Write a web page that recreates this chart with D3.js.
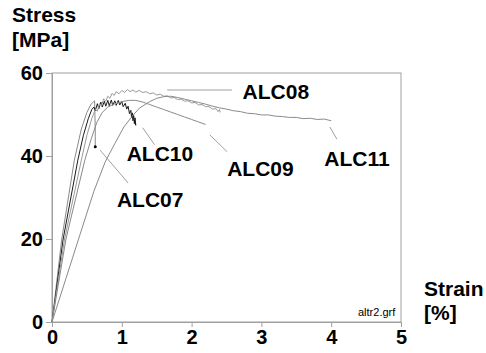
<!DOCTYPE html>
<html>
<head>
<meta charset="utf-8">
<script src="https://d3js.org/d3.v7.min.js"></script>
<style>
  body { margin: 0; background: #fff; }
  text { font-family: Arial, 'Liberation Sans', sans-serif; }
  .tick text { font-weight: bold; font-size: 20px; fill: #000; }
  .curve { fill: none; stroke-width: 1; }
  .label { font-weight: bold; font-size: 21px; fill: #000; }
</style>
</head>
<body>
<svg width="486" height="353"></svg>
<script>
  // strain [%], stress [MPa]
  const alc07 = [[0,0],[0.14,20],[0.32,39],[0.42,46.5],[0.5,50.5],[0.56,52.5],[0.61,53.3],[0.615,50],[0.62,46],[0.62,42.2]];

  const alc10 = [[0,0],[0.16,20],[0.37,39],[0.45,45],[0.52,49],[0.57,51.2],[0.6,51.8],[0.62,50.9],[0.65,52.6],[0.67,51.4],[0.7,53],[0.72,51.8],[0.75,53.2],[0.77,52],[0.8,53.4],[0.82,52.1],[0.85,53.5],[0.87,52.2],[0.9,53.3],[0.92,52.2],[0.95,53.4],[0.97,52.3],[1.0,53.1],[1.02,51.9],[1.05,52.7],[1.07,51.3],[1.09,52],[1.11,50.2],[1.13,51],[1.14,49.2],[1.15,50.4],[1.16,48.5],[1.17,49.8],[1.18,47.8],[1.19,49.2],[1.2,47.4],[1.18,48.6],[1.2,47.7]];

  const alc08 = [[0,0],[0.18,20],[0.42,39],[0.5,45],[0.57,49],[0.62,51.2],[0.65,50.8],[0.68,52.6],[0.71,52.2],[0.74,53.8],[0.77,53.2],[0.8,54.4],[0.83,53.9],[0.86,55.1],[0.89,54.6],[0.92,55.5],[0.96,55],[1.0,55.8],[1.04,55.3],[1.08,56],[1.12,55.5],[1.16,55.9],[1.2,55.4],[1.25,55.8],[1.3,55.3],[1.35,55.5],[1.4,55],[1.45,55.2],[1.5,54.7],[1.55,54.9],[1.6,54.4],[1.65,54.5],[1.7,54],[1.75,54.1],[1.8,53.6],[1.85,53.7],[1.9,53.2],[1.95,53.3],[2.0,52.8],[2.05,52.9],[2.1,52.3],[2.15,52.4],[2.2,51.9],[2.25,51.9],[2.3,51.3],[2.35,51.4],[2.38,50.7],[2.4,51.2],[2.41,50.5]];

  const alc09 = [[0,0],[0.2,20],[0.47,39],[0.56,44],[0.64,48],[0.72,50.5],[0.8,51.8],[0.9,52.6],[1.0,53.1],[1.1,53.4],[1.2,53.4],[1.3,53],[1.4,52.4],[1.5,51.8],[1.6,51.2],[1.7,50.6],[1.8,50],[1.9,49.4],[2.0,48.8],[2.1,48.2],[2.2,47.6]];

  const alc11 = [[0,0],[0.2,10.5],[0.4,21],[0.6,31.5],[0.76,38.5],[0.9,43],[1.03,47],[1.15,49.6],[1.25,51.5],[1.4,53.1],[1.5,53.9],[1.6,54.3],[1.7,54.4],[1.8,54.1],[1.9,53.7],[2.0,53.3],[2.1,52.9],[2.2,52.5],[2.3,52],[2.4,51.6],[2.5,51.3],[2.6,50.9],[2.7,50.7],[2.8,50.3],[2.9,50.2],[3.0,49.9],[3.1,49.9],[3.2,49.6],[3.3,49.5],[3.4,49.3],[3.5,49.3],[3.6,49],[3.7,49.1],[3.8,48.8],[3.9,48.9],[4.0,48.5]];

  const seriesNames = ['ALC07', 'ALC10', 'ALC08', 'ALC09', 'ALC11'];
  const seriesData = [alc07, alc10, alc08, alc09, alc11];
  const seriesColors = ['#8a8a8a', '#1a1a1a', '#9a9a9a', '#8a8a8a', '#8a8a8a'];

  const xTicks = [0, 1, 2, 3, 4, 5];
  const yTicks = [0, 20, 40, 60];

  // leader lines: [x1, y1, x2, y2] in data units, then label anchor
  const leaders = [[0.69, 41.4, 1.09, 33.5], [1.30, 46.8, 1.47, 42.7], [1.65, 55.9, 2.58, 55.9], [2.26, 45.1, 2.51, 41.0], [3.98, 47.0, 4.08, 44.1]];
  const labelPos = [[0.93, 27.7], [1.07, 38.8], [2.73, 53.7], [2.51, 35.2], [3.90, 37.6]];

  const svg = d3.select('svg');
  const x = d3.scaleLinear().domain([0, 5]).range([52, 401]);
  const y = d3.scaleLinear().domain([0, 60]).range([322, 73]);

  // frame
  svg.append('rect')
    .attr('x', x(0)).attr('y', y(60))
    .attr('width', x(5) - x(0)).attr('height', y(0) - y(60))
    .attr('fill', 'none').attr('stroke', '#a0a0a0');

  const xAxis = svg.append('g')
    .attr('transform', `translate(0,${y(0)})`)
    .call(d3.axisBottom(x).tickValues(xTicks).tickFormat(d3.format('d')).tickSize(5).tickPadding(3));
  const yAxis = svg.append('g')
    .attr('transform', `translate(${x(0)},0)`)
    .call(d3.axisLeft(y).tickValues(yTicks).tickSize(6).tickPadding(3));
  [xAxis, yAxis].forEach((a) => {
    a.select('.domain').attr('stroke', '#a0a0a0');
    a.selectAll('.tick line').attr('stroke', '#a0a0a0');
    a.attr('font-family', null).attr('font-size', null);
  });

  const line = d3.line().x((d) => x(d[0])).y((d) => y(d[1]));

  // curves
  seriesData.forEach((s, i) => {
    svg.append('path')
      .datum(s)
      .attr('class', 'curve')
      .attr('stroke', seriesColors[i])
      .attr('d', line);
  });

  // end point of ALC07
  const last07 = alc07[alc07.length - 1];
  svg.append('circle')
    .attr('cx', x(last07[0])).attr('cy', y(last07[1]))
    .attr('r', 1.5).attr('fill', '#000');

  // leaders and labels
  leaders.forEach((l, i) => {
    svg.append('line')
      .attr('x1', x(l[0])).attr('y1', y(l[1]))
      .attr('x2', x(l[2])).attr('y2', y(l[3]))
      .attr('stroke', '#a0a0a0');
    svg.append('text')
      .attr('class', 'label')
      .attr('x', x(labelPos[i][0])).attr('y', y(labelPos[i][1]))
      .text(seriesNames[i]);
  });

  // axis titles
  svg.append('text').attr('class', 'label').attr('font-size', '20px').attr('x', 12).attr('y', 22).text('Stress');
  svg.append('text').attr('class', 'label').attr('font-size', '20px').attr('x', 12).attr('y', 47).text('[MPa]');
  svg.append('text').attr('class', 'label').attr('font-size', '20px').attr('x', 424).attr('y', 296).text('Strain');
  svg.append('text').attr('class', 'label').attr('font-size', '20px').attr('x', 424).attr('y', 320).text('[%]');

  svg.append('text')
    .attr('x', 358).attr('y', 316)
    .attr('font-size', '11px')
    .attr('fill', '#000')
    .text('altr2.grf');
</script>
</body>
</html>
